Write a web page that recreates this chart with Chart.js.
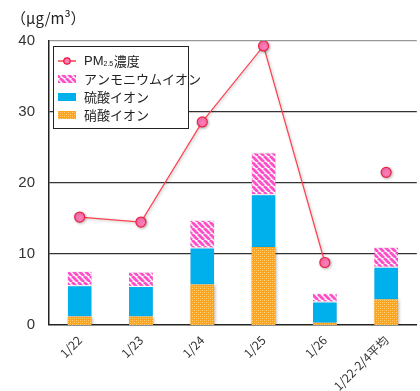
<!DOCTYPE html>
<html lang="ja">
<head>
<meta charset="utf-8">
<script src="https://cdn.jsdelivr.net/npm/chart.js@4/dist/chart.umd.min.js"></script>
<style>
  html, body { margin: 0; padding: 0; background: #fff; overflow: hidden; }
  #wrap { position: relative; width: 423px; height: 391px; }
</style>
</head>
<body>
<div id="wrap"><canvas id="c"></canvas></div>
<script>
// 日別の成分濃度 (μg/m³)
const categories = ['1/22', '1/23', '1/24', '1/25', '1/26', '1/22-2/4平均'];
const pm25 = [15.2, 14.5, 28.6, 39.3, 8.8, 21.5];
const ammonium = [2.0, 2.0, 3.9, 5.9, 1.2, 2.8];
const sulfate = [4.4, 4.3, 5.2, 7.4, 3.0, 4.6];
const nitrate = [1.2, 1.2, 5.7, 11.0, 0.3, 3.6];
const yTicks = [0, 10, 20, 30, 40];
const unitLabel = '（μg/m³）';

const NUM_FONT = '"Liberation Sans", "Noto Sans CJK JP", sans-serif';
const JP_FONT = '"Noto Sans CJK JP", "Liberation Sans", sans-serif';

// 斜線ハッチ (アンモニウムイオン)
function stripePattern() {
  const s = 6, cv = document.createElement('canvas');
  cv.width = s; cv.height = s;
  const g = cv.getContext('2d');
  g.fillStyle = '#ffffff';
  g.fillRect(0, 0, s, s);
  g.strokeStyle = '#ff4fc8';
  g.lineWidth = 2.9;
  g.beginPath();
  for (let k = -s; k <= 2 * s; k += s) {
    g.moveTo(k, 0);
    g.lineTo(k + s, s);
  }
  g.stroke();
  return g.createPattern(cv, 'repeat');
}

// 点描 (硝酸イオン)
function dotPattern() {
  const s = 4, cv = document.createElement('canvas');
  cv.width = s; cv.height = s;
  const g = cv.getContext('2d');
  g.fillStyle = '#ffa31a';
  g.fillRect(0, 0, s, s);
  g.fillStyle = '#ffd27a';
  g.fillRect(0, 0, 1, 1);
  g.fillRect(2, 2, 1, 1);
  g.fillStyle = '#ffbb4a';
  g.fillRect(2, 0, 1, 1);
  g.fillRect(0, 2, 1, 1);
  return g.createPattern(cv, 'repeat');
}

const stripe = stripePattern();
const dots = dotPattern();
const BLUE = '#00b0ec';

// 影付きの描画
const shadowPlugin = {
  id: 'softShadow',
  beforeDatasetDraw(chart) {
    const ctx = chart.ctx;
    ctx.save();
    ctx.shadowColor = 'rgba(0,0,0,0.28)';
    ctx.shadowBlur = 3;
    ctx.shadowOffsetX = 1;
    ctx.shadowOffsetY = 1;
  },
  afterDatasetDraw(chart) {
    chart.ctx.restore();
  }
};

// 凡例枠と単位表示
const boxLegend = {
  id: 'boxLegend',
  afterDraw(chart) {
    const ctx = chart.ctx;
    const a = chart.chartArea;
    ctx.save();
    // 単位
    ctx.fillStyle = '#222';
    ctx.font = '15px ' + JP_FONT;
    ctx.textAlign = 'left';
    ctx.textBaseline = 'middle';
    ctx.fillText(unitLabel, a.left - 38, a.top - 23);

    // 凡例 (折れ線、アンモニウム、硫酸、硝酸の順)
    const x0 = a.left + 4, y0 = a.top + 5, w = 135, h = 82;
    ctx.fillStyle = '#fff';
    ctx.fillRect(x0, y0, w, h);
    ctx.strokeStyle = '#222';
    ctx.lineWidth = 1;
    ctx.strokeRect(x0 + 0.5, y0 + 0.5, w, h);

    const ds = chart.data.datasets;
    const rows = [ds[0], ds[3], ds[2], ds[1]];
    rows.forEach((d, i) => {
      const cy = y0 + 15 + i * 18;
      const sx = x0 + 5;
      if (d.type === 'line') {
        ctx.strokeStyle = d.borderColor;
        ctx.lineWidth = 1.5;
        ctx.beginPath();
        ctx.moveTo(sx, cy);
        ctx.lineTo(sx + 18, cy);
        ctx.stroke();
        ctx.beginPath();
        ctx.arc(sx + 9, cy, 3.2, 0, Math.PI * 2);
        ctx.fillStyle = '#ff7ab8';
        ctx.fill();
        ctx.strokeStyle = '#ee1133';
        ctx.lineWidth = 1.2;
        ctx.stroke();
      } else {
        ctx.fillStyle = d.backgroundColor;
        ctx.fillRect(sx, cy - 4, 18, 8);
      }
      ctx.fillStyle = '#222';
      ctx.textBaseline = 'middle';
      const tx = x0 + 31;
      if (d.type === 'line') {
        // PM2.5 の「2.5」は下付き
        ctx.font = '13px ' + NUM_FONT;
        ctx.fillText('PM', tx, cy);
        let wx = tx + ctx.measureText('PM').width;
        ctx.font = '7px ' + NUM_FONT;
        ctx.fillText('2.5', wx, cy + 3);
        wx += ctx.measureText('2.5').width + 0.5;
        ctx.font = '13px ' + JP_FONT;
        ctx.fillText('濃度', wx, cy);
      } else {
        ctx.font = '13px ' + JP_FONT;
        ctx.fillText(d.label, tx, cy);
      }
    });
    ctx.restore();
  }
};

const segBorder = { top: 1, bottom: 0, left: 0, right: 0 };

new Chart(document.getElementById('c'), {
  data: {
    labels: categories,
    datasets: [
      {
        type: 'line',
        label: 'PM2.5濃度',
        data: pm25,
        order: 0,
        borderColor: '#ff4050',
        borderWidth: 1.2,
        pointRadius: 5,
        pointBackgroundColor: '#ff7ab8',
        pointBorderColor: '#ee2244',
        pointBorderWidth: 1.2,
        tension: 0,
        segment: {
          // 期間平均の点は日別の折れ線とつながない
          borderColor: c => c.p1DataIndex === categories.length - 1 ? 'rgba(0,0,0,0)' : '#ff4050'
        }
      },
      // 積み上げは下から 硝酸 → 硫酸 → アンモニウム
      {
        type: 'bar',
        label: '硝酸イオン',
        data: nitrate,
        order: 1,
        stack: 's',
        backgroundColor: dots,
        borderWidth: 0
      },
      {
        type: 'bar',
        label: '硫酸イオン',
        data: sulfate,
        order: 1,
        stack: 's',
        backgroundColor: BLUE,
        borderColor: '#ffffff',
        borderWidth: segBorder,
        borderSkipped: false
      },
      {
        type: 'bar',
        label: 'アンモニウムイオン',
        data: ammonium,
        order: 1,
        stack: 's',
        backgroundColor: stripe,
        borderColor: '#ffffff',
        borderWidth: segBorder,
        borderSkipped: false
      }
    ]
  },
  plugins: [shadowPlugin, boxLegend],
  options: {
    responsive: true,
    maintainAspectRatio: false,
    animation: false,
    layout: { padding: { top: 41, left: 0, right: 0, bottom: 0 } },
    plugins: {
      legend: { display: false },
      title: { display: false },
      tooltip: { enabled: false }
    },
    datasets: {
      bar: { barPercentage: 0.78, categoryPercentage: 0.5 }
    },
    scales: {
      x: {
        stacked: true,
        grid: { display: false, drawTicks: false },
        border: { display: true, color: '#222', width: 1.5 },
        ticks: {
          autoSkip: false,
          minRotation: 45,
          maxRotation: 45,
          padding: 8,
          color: '#333',
          font: { family: JP_FONT, size: 12 }
        },
        afterFit(s) { s.height = 66; }
      },
      y: {
        stacked: true,
        min: 0,
        max: 40,
        afterBuildTicks(s) { s.ticks = yTicks.map(v => ({ value: v })); },
        grid: {
          drawTicks: false,
          color: c => c.tick && c.tick.value === 40 ? '#999' : '#333',
          lineWidth: c => c.tick && c.tick.value === 0 ? 0 : 1.2
        },
        border: { display: true, color: '#222', width: 1.5 },
        ticks: {
          padding: 14,
          color: '#333',
          font: { family: NUM_FONT, size: 15 }
        },
        afterFit(s) { s.width = 49; }
      }
    }
  }
});
</script>
</body>
</html>
